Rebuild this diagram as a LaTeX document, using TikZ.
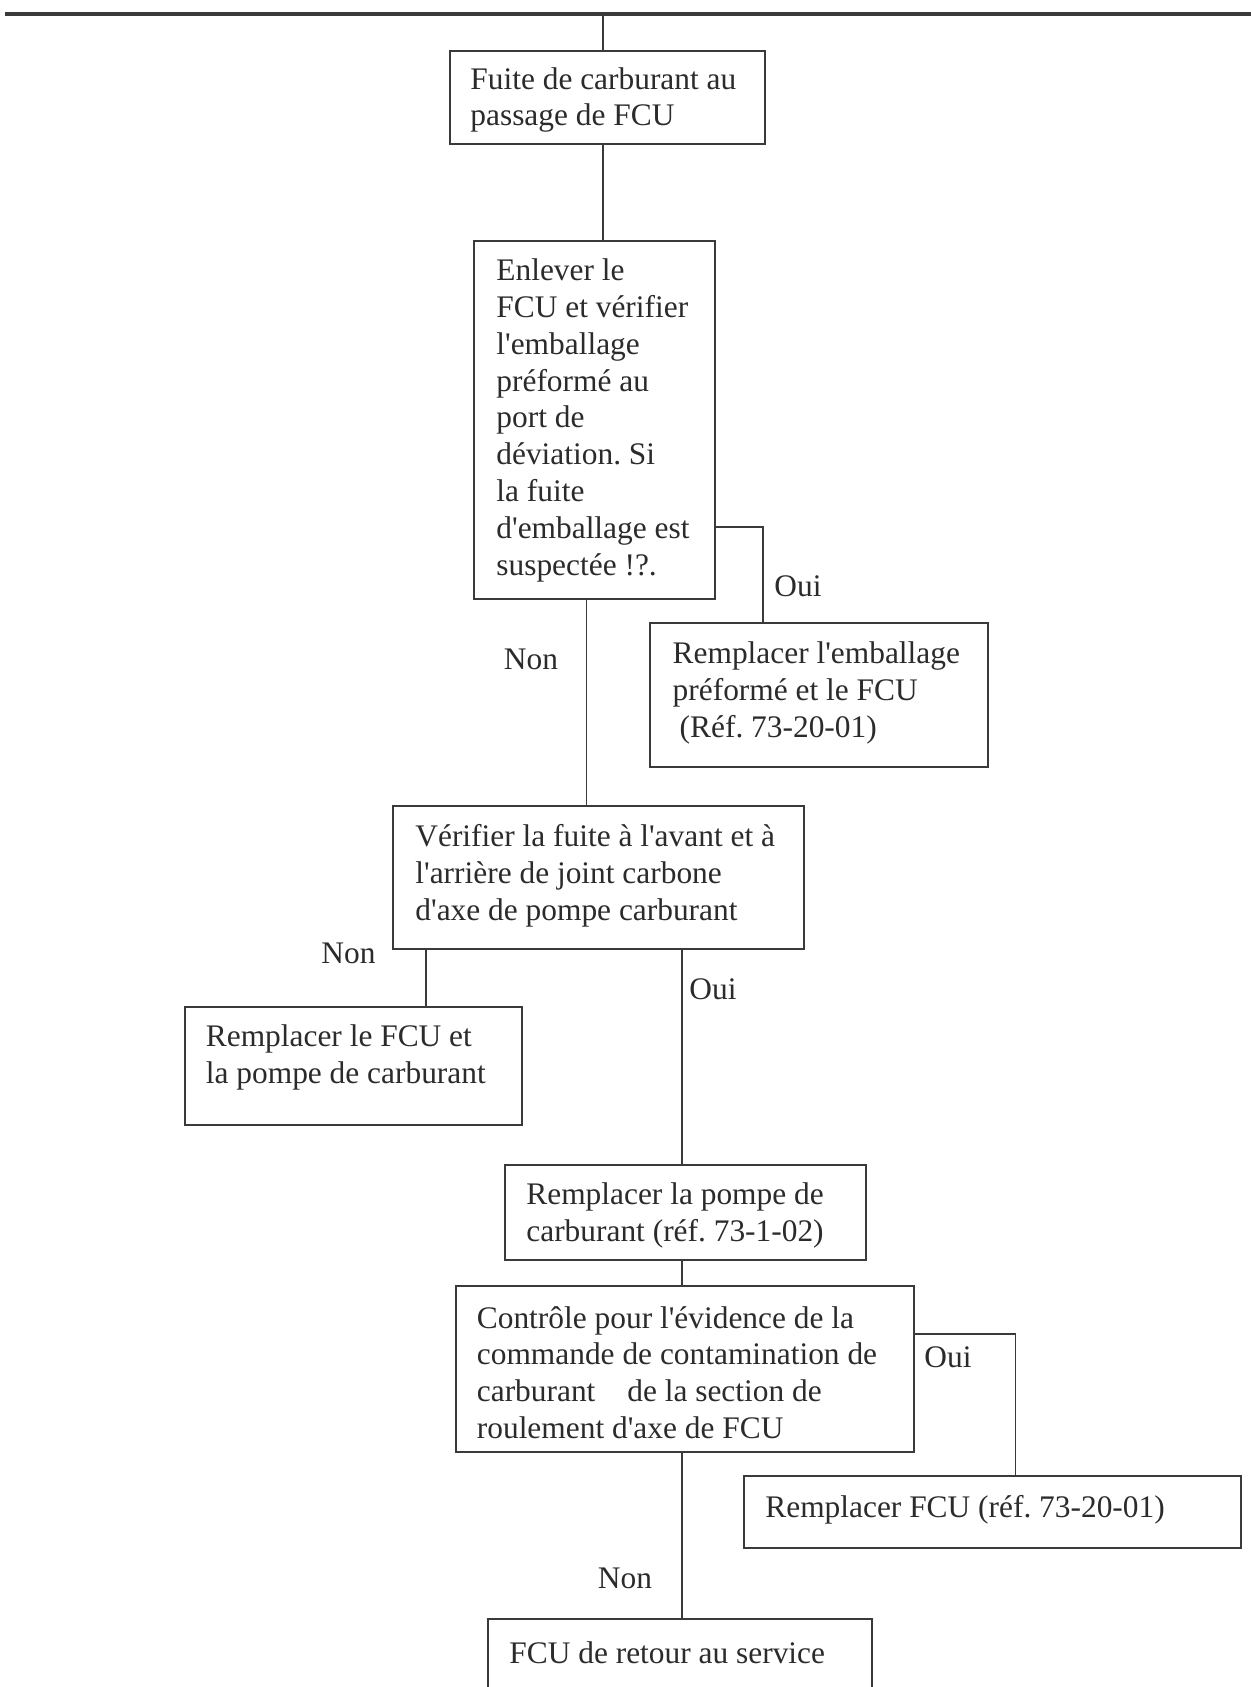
\documentclass[tikz,border=0pt]{standalone}
\usepackage{fontspec}
\setmainfont{Liberation Serif}[Ligatures=TeXOff]
\usetikzlibrary{fit,calc}
\definecolor{ink}{HTML}{2B2B2B}
\definecolor{linec}{HTML}{3A3A3A}
\tikzset{
  box/.style={draw=linec, line width=1pt, rectangle, inner sep=0pt},
  txt/.style={text=ink, align=left, inner sep=0pt, anchor=west, yshift=-1.6pt, font=\fontsize{15.7}{18.4}\selectfont},
  lbl/.style={text=ink, inner sep=0pt, font=\fontsize{15.7}{18.4}\selectfont},
  conn/.style={draw=linec, line width=0.8pt},
}
\begin{document}
\frenchspacing
\begin{tikzpicture}[x=0.5pt,y=-0.5pt]
\useasboundingbox (0,0) rectangle (1251,1687);
\clip (0,0) rectangle (1251,1687);
% top border line
\coordinate (tl) at (5,14);
\coordinate (tr) at (1251,14);
\draw[draw=linec, line width=1.8pt] (tl) -- (tr);
% connector x positions
\coordinate (cA) at (603,0);
\coordinate (n1) at (586.3,0);
\coordinate (n2) at (426,0);
\coordinate (o2) at (682,0);
\coordinate (o1) at (762.7,527.1);
\coordinate (o3) at (1015.5,1334);
% boxes
\node[box, fit={(449.6,50.6) (764.8,144.1)}] (b1) {};
\node[box, fit={(474.4,241) (715.3,599.2)}] (b2) {};
\node[box, fit={(649.7,622.8) (987.5,767)}] (b3) {};
\node[box, fit={(392.6,805.7) (803.5,948.8)}] (b4) {};
\node[box, fit={(185,1006.9) (521.7,1125.2)}] (b5) {};
\node[box, fit={(504.5,1165) (866,1259.6)}] (b6) {};
\node[box, fit={(456,1285.5) (914.3,1452.2)}] (b7) {};
\node[box, fit={(744.4,1476) (1241.4,1548)}] (b8) {};
\node[box, fit={(488.4,1619) (872.4,1730)}] (b9) {};
% texts
\node[txt] (t1) at (470,96.8) {Fuite de carburant au\\passage de FCU};
\node[txt] (t2) at (496,417.2) {Enlever le\\FCU et vérifier\\l'emballage\\préformé au\\port de\\déviation. Si\\la fuite\\d'emballage est\\suspectée !?.};
\node[txt] (t3) at (672.3,690) {Remplacer l'emballage\\préformé et le FCU\\\hspace*{3.5pt}(Réf. 73-20-01)};
\node[txt] (t4) at (415,872.4) {Vérifier la fuite à l'avant et à\\l'arrière de joint carbone\\d'axe de pompe carburant};
\node[txt] (t5) at (205.5,1054.3) {Remplacer le FCU et\\la pompe de carburant};
\node[txt] (t6) at (526,1212.3) {Remplacer la pompe de\\carburant (réf. 73-1-02)};
\node[txt] (t7) at (476.5,1369.4) {Contrôle pour l'évidence de la\\commande de contamination de\\carburant\hspace*{12pt} de la section de\\roulement d'axe de FCU};
\node[txt] (t8) at (765,1507) {Remplacer FCU (réf. 73-20-01)};
\node[txt] (t9) at (509,1650) {FCU de retour au service};
% connectors
\draw[conn] (cA |- tl) -- (cA |- b1.north);
\draw[conn] (cA |- b1.south) -- (cA |- b2.north);
\draw[conn] (b2.east |- o1) -| (b3.north -| o1);
\draw[conn] (b2.south -| n1) -- (b4.north -| n1);
\draw[conn] (b4.south -| n2) -- (b5.north -| n2);
\draw[conn] (b4.south -| o2) -- (b6.north -| o2);
\draw[conn] (b6.south -| o2) -- (b7.north -| o2);
\draw[conn] (b7.east |- o3) -| (b8.north -| o3);
\draw[conn] (b7.south -| o2) -- (b9.north -| o2);
% labels
\node[lbl] (l1) at (798,586) {Oui};
\node[lbl] (l2) at (531,659) {Non};
\node[lbl] (l3) at (348.5,953) {Non};
\node[lbl] (l4) at (713,989.6) {Oui};
\node[lbl] (l5) at (948,1357.5) {Oui};
\node[lbl] (l6) at (625,1578) {Non};
\end{tikzpicture}
\end{document}
